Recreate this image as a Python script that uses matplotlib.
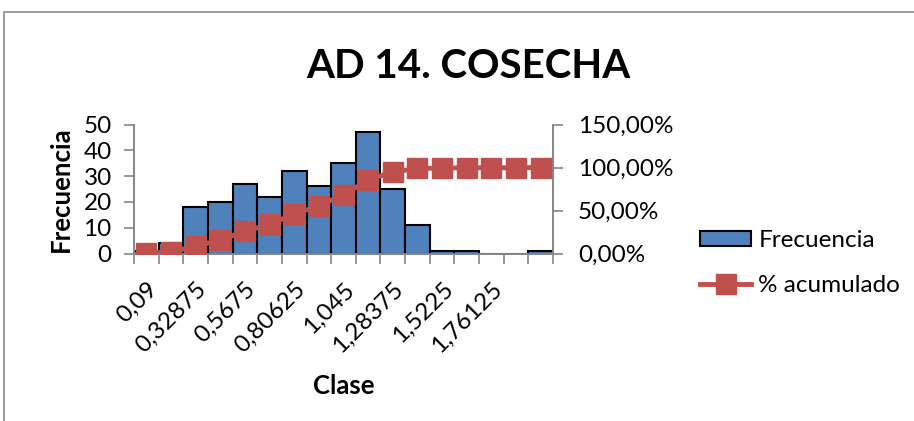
import matplotlib
matplotlib.use("Agg")
import matplotlib.pyplot as plt
from matplotlib.patches import Rectangle
from matplotlib.lines import Line2D
from matplotlib.ticker import FuncFormatter

plt.rcParams['font.family'] = ['Lato', 'DejaVu Sans']

categories = ["0,09", "0,209375", "0,32875", "0,448125", "0,5675", "0,686875",
              "0,80625", "0,925625", "1,045", "1,164375", "1,28375", "1,403125",
              "1,5225", "1,641875", "1,76125", "1,880625", ""]
frecuencia = [1, 4, 18, 20, 27, 22, 32, 26, 35, 47, 25, 11, 1, 1, 0, 0, 1]
acumulado = [0.37, 1.85, 8.49, 15.87, 25.83, 33.95, 45.76, 55.35, 68.27, 85.61,
             94.83, 98.89, 99.26, 99.63, 99.63, 99.63, 100.0]
shown_labels = [c if i % 2 == 0 else "" for i, c in enumerate(categories)]

W, H = 914, 421
fig = plt.figure(figsize=(W / 100, H / 100), dpi=100)
fig.patch.set_facecolor("white")

# outer chart frame
fig.patches.append(Rectangle((4 / W, -0.05), 1.2, (421 - 12) / H + 0.05,
                             transform=fig.transFigure, fill=False,
                             edgecolor="#8c8c8c", linewidth=1.2, zorder=0))

ax = fig.add_axes([134 / W, (421 - 253.5) / H, (553 - 134) / W, (253.5 - 124.5) / H])
ax2 = ax.twinx()

x = list(range(len(categories)))
bar_color = "#4F81BD"
line_color = "#C0504D"
axis_gray = "#868686"

ax.bar(x, frecuencia, width=1.0, color=bar_color, edgecolor="black",
       linewidth=1.5, zorder=2)
ax.set_xlim(-0.5, len(categories) - 0.5)
ax.set_ylim(0, 50)
ax.set_yticks([0, 10, 20, 30, 40, 50])

pct = [a / 100 for a in acumulado]
ax2.plot(x, pct, color=line_color, linewidth=3.5, marker="s", markersize=14.5,
         markerfacecolor=line_color, markeredgecolor=line_color, zorder=3)
ax2.set_ylim(0, 1.5)
ax2.set_yticks([0, 0.5, 1.0, 1.5])
ax2.yaxis.set_major_formatter(FuncFormatter(lambda v, p: f"{v*100:.2f}%".replace(".", ",")))

ax.set_xticks([i - 0.5 for i in range(len(categories) + 1)], minor=False)
ax.set_xticklabels([])
ax.set_xticks(x, minor=True)
ax.set_xticklabels(shown_labels, minor=True, rotation=45, ha="right",
                   rotation_mode="anchor", fontsize=17.5)
ax.tick_params(axis="x", which="minor", length=0, pad=18)
ax.tick_params(axis="x", which="major", length=7, width=1.2, color=axis_gray,
               direction="out")

for a in (ax, ax2):
    a.spines["top"].set_visible(False)
    for s in ("left", "right", "bottom"):
        a.spines[s].set_color(axis_gray)
        a.spines[s].set_linewidth(1.2)
ax.tick_params(axis="y", length=7, width=1.2, color=axis_gray, labelsize=17.5, pad=9)
ax2.tick_params(axis="y", length=7, width=1.2, color=axis_gray, labelsize=17.5, pad=11)
ax.set_zorder(1)
ax2.set_zorder(2)
ax2.patch.set_visible(False)

ax.set_ylabel("Frecuencia", fontsize=18.5, fontweight="bold", labelpad=8)
ax.set_xlabel("Clase", fontsize=18.5, fontweight="bold", labelpad=12)
fig.text(468 / W, 1 - 67 / H, "AD 14. COSECHA", fontsize=29, fontweight="bold",
         ha="center", va="center")

handles = [Rectangle((0, 0), 1, 1, facecolor=bar_color, edgecolor="black", linewidth=1.5),
           Line2D([0], [0], color=line_color, linewidth=3.5, marker="s", markersize=14.5,
                  markerfacecolor=line_color, markeredgecolor=line_color)]
fig.legend(handles, ["Frecuencia", "% acumulado"], loc="upper left",
           bbox_to_anchor=(700 / W, 1 - 230 / H), frameon=False, fontsize=17.5,
           handlelength=2.1, handleheight=0.55, handletextpad=0.3, labelspacing=1.0,
           borderaxespad=0, borderpad=0)

fig.savefig("out.png", dpi=100)
